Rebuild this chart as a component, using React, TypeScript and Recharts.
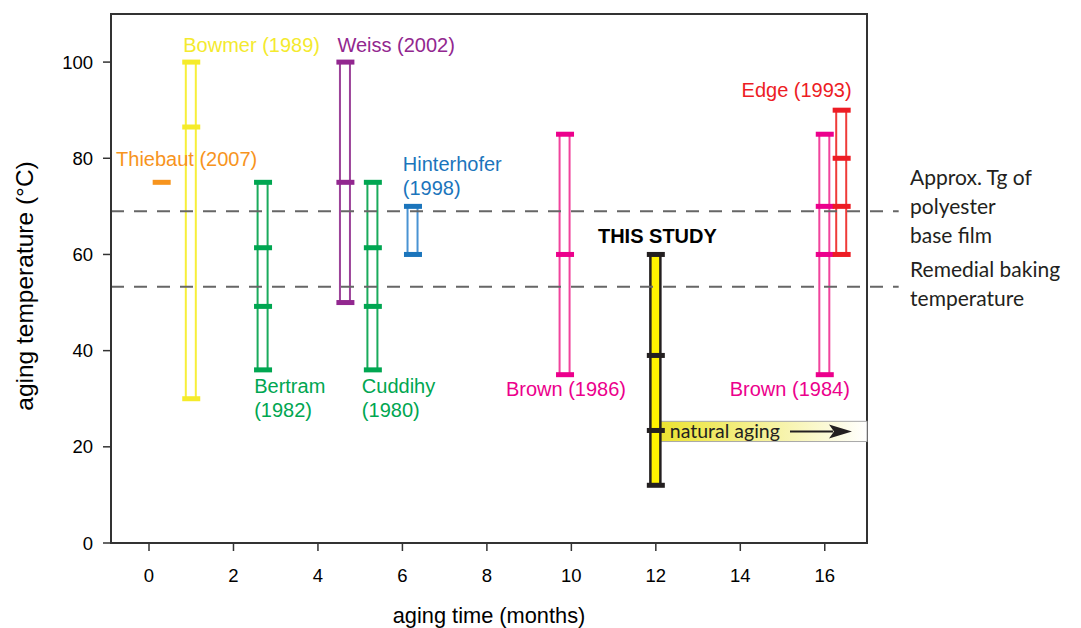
import React from 'react';
import { ComposedChart, Bar, Scatter, XAxis, YAxis, ReferenceLine, ReferenceArea, ReferenceDot } from 'recharts';

// studies, aging time (months) and the tested temperatures (°C)
const studies = [
  'Thiebaut (2007)', 'Bowmer (1989)', 'Bertram (1982)', 'Weiss (2002)', 'Cuddihy (1980)',
  'Hinterhofer (1998)', 'Brown (1986)', 'THIS STUDY', 'Brown (1984)', 'Edge (1993)',
];
const agingMonths = [0.3, 1, 2.7, 4.65, 5.3, 6.25, 9.85, 12, 16, 16.4];
const testTemps = [
  [75],
  [100, 86.5, 30],
  [75, 61.4, 49.2, 36],
  [100, 75, 50],
  [75, 61.4, 49.2, 36],
  [70, 60],
  [85, 60, 35],
  [60, 39, 23.4, 12],
  [85, 70, 60, 35],
  [90, 80, 70, 60],
];
const tgTemp = 69;
const bakingTemp = 53.3;
const naturalAgingBand = [21.1, 25.3];
const xTicks = [0, 2, 4, 6, 8, 10, 12, 14, 16];
const yTicks = [0, 20, 40, 60, 80, 100];

// label anchors in data units (months, °C)
const studyLabels = [
  { study: 'Thiebaut (2007)', lines: ['Thiebaut (2007)'], x: -0.78, y: 78.3 },
  { study: 'Bowmer (1989)', lines: ['Bowmer (1989)'], x: 0.81, y: 102 },
  { study: 'Weiss (2002)', lines: ['Weiss (2002)'], x: 4.46, y: 102 },
  { study: 'Hinterhofer (1998)', lines: ['Hinterhofer', '(1998)'], x: 6.01, y: 77.3 },
  { study: 'Bertram (1982)', lines: ['Bertram', '(1982)'], x: 2.49, y: 31.1 },
  { study: 'Cuddihy (1980)', lines: ['Cuddihy', '(1980)'], x: 5.04, y: 31.1 },
  { study: 'Edge (1993)', lines: ['Edge (1993)'], x: 14.03, y: 92.7 },
  { study: 'THIS STUDY', lines: ['THIS STUDY'], x: 10.63, y: 62.3 },
  { study: 'Brown (1986)', lines: ['Brown (1986)'], x: 8.45, y: 30.5 },
  { study: 'Brown (1984)', lines: ['Brown (1984)'], x: 13.75, y: 30.5 },
];
const sideNotes = [
  { lines: ['Approx. Tg of', 'polyester', 'base film'], x: 18.02, y: 74.4 },
  { lines: ['Remedial baking', 'temperature'], x: 18.02, y: 55.3 },
];

const colors: Record<string, { cap: string; line: string; text: string }> = {
  'Thiebaut (2007)': { cap: '#f7941d', line: '#f7941d', text: '#f7941d' },
  'Bowmer (1989)': { cap: '#f5eb2a', line: '#f7ef3a', text: '#f4ea2e' },
  'Bertram (1982)': { cap: '#00a651', line: '#1aab5c', text: '#00a651' },
  'Weiss (2002)': { cap: '#92278f', line: '#9c4399', text: '#92278f' },
  'Cuddihy (1980)': { cap: '#00a651', line: '#1aab5c', text: '#00a651' },
  'Hinterhofer (1998)': { cap: '#1b75bc', line: '#4a93d3', text: '#1b75bc' },
  'Brown (1986)': { cap: '#ec008c', line: '#f0449c', text: '#ec008c' },
  'THIS STUDY': { cap: '#231f20', line: '#231f20', text: '#000000' },
  'Brown (1984)': { cap: '#ec008c', line: '#f0449c', text: '#ec008c' },
  'Edge (1993)': { cap: '#ed1c24', line: '#ef3b39', text: '#ed1c24' },
};

const ranges = studies
  .map((study, i) => ({ study, x: agingMonths[i], range: [Math.min(...testTemps[i]), Math.max(...testTemps[i])] }))
  .filter(d => d.range[1] > d.range[0]);

const caps = studies.flatMap((study, i) => testTemps[i].map(v => ({ study, x: agingMonths[i], v })));

const sans = 'Liberation Sans, Arial, Helvetica, sans-serif';
const humanist = 'Lato, "Open Sans", sans-serif';
const axisColor = '#333333';

function RangeShape(props: any) {
  const { x, y, width, height, payload } = props;
  if (!(height > 0)) return null;
  const c = colors[payload.study];
  const ours = payload.study === 'THIS STUDY';
  return (
    <rect
      x={x + 1}
      y={y}
      width={width - 2}
      height={height}
      fill={ours ? '#fff200' : 'none'}
      stroke={c.line}
      strokeWidth={ours ? 2.5 : 2}
    />
  );
}

function CapShape(props: any) {
  const { cx, cy, payload } = props;
  return <rect x={cx - 9} y={cy - 2.5} width={18} height={5} fill={colors[payload.study].cap} />;
}

function NaturalAging(props: any) {
  const { x, y, width, height } = props;
  const right = x + width;
  const mid = y + height / 2;
  return (
    <g>
      <rect x={x} y={y} width={width} height={height} fill="url(#agingGrad)" stroke="#a8a8a8" strokeWidth={1} />
      <text x={x + 14} y={mid + 6.5} fontFamily={humanist} fontSize={19.5} fill="#231f20">natural aging</text>
      <line x1={right - 77} y1={mid} x2={right - 34} y2={mid} stroke="#231f20" strokeWidth={2} />
      <polygon points={`${right - 15},${mid} ${right - 38},${mid - 7} ${right - 33},${mid} ${right - 38},${mid + 7}`} fill="#231f20" />
    </g>
  );
}

export default function App() {
  return (
    <ComposedChart
      width={1073}
      height={620}
      data={ranges}
      margin={{ top: 6, right: 214, bottom: 0, left: 43 }}
    >
      <defs>
        <linearGradient id="agingGrad" x1="0" y1="0" x2="1" y2="0">
          <stop offset="0%" stopColor="#ebe22c" />
          <stop offset="100%" stopColor="#ffffff" />
        </linearGradient>
      </defs>
      <XAxis
        type="number"
        dataKey="x"
        domain={[-0.9, 17]}
        ticks={xTicks}
        allowDataOverflow
        height={85}
        tickSize={8}
        tickMargin={18}
        tick={{ fontSize: 18.5, fill: '#000', fontFamily: sans }}
        axisLine={{ stroke: axisColor, strokeWidth: 2 }}
        tickLine={{ stroke: axisColor, strokeWidth: 1.5 }}
        label={{
          content: (p: any) => (
            <text
              x={p.viewBox.x + p.viewBox.width / 2}
              y={614.5}
              textAnchor="middle"
              fontFamily={sans}
              fontSize={21.8}
              fill="#000"
            >
              aging time (months)
            </text>
          ),
        }}
      />
      <YAxis
        type="number"
        domain={[0, 110]}
        ticks={yTicks}
        allowDataOverflow
        width={60}
        tickSize={8}
        tickMargin={10}
        tick={{ fontSize: 18.5, fill: '#000', fontFamily: sans }}
        axisLine={{ stroke: axisColor, strokeWidth: 2 }}
        tickLine={{ stroke: axisColor, strokeWidth: 1.5 }}
        label={{
          content: (p: any) => {
            const cy = p.viewBox.y + p.viewBox.height / 2 + 7.5;
            return (
              <text
                x={24.5}
                y={cy}
                transform={`rotate(-90 24.5 ${cy})`}
                textAnchor="middle"
                fontFamily={sans}
                fontSize={24.5}
                fill="#000"
              >
                aging temperature (°C)
              </text>
            );
          },
        }}
      />
      <ReferenceArea x1={-0.9} x2={17} y1={0} y2={110} fill="none" stroke={axisColor} strokeWidth={2} fillOpacity={0} />
      <ReferenceArea
        x1={12}
        x2={17}
        y1={naturalAgingBand[0]}
        y2={naturalAgingBand[1]}
        ifOverflow="visible"
        shape={<NaturalAging />}
      />
      <ReferenceLine
        segment={[{ x: -0.9, y: tgTemp }, { x: 17.75, y: tgTemp }]}
        ifOverflow="visible"
        stroke="#666"
        strokeWidth={2}
        strokeDasharray="13 10"
      />
      <ReferenceLine
        segment={[{ x: -0.9, y: bakingTemp }, { x: 17.75, y: bakingTemp }]}
        ifOverflow="visible"
        stroke="#666"
        strokeWidth={2}
        strokeDasharray="13 10"
      />
      <Bar dataKey="range" barSize={12} shape={<RangeShape />} isAnimationActive={false} />
      <Scatter data={caps} dataKey="v" shape={<CapShape />} isAnimationActive={false} />
      {studyLabels.map(l => (
        <ReferenceDot
          key={l.study}
          x={l.x}
          y={l.y}
          r={0}
          ifOverflow="visible"
          shape={(p: any) => (
            <text
              x={p.cx}
              y={p.cy}
              fontFamily={sans}
              fontSize={20}
              fontWeight={l.study === 'THIS STUDY' ? 'bold' : 'normal'}
              fill={colors[l.study].text}
            >
              {l.lines.map((t, i) => (
                <tspan key={i} x={p.cx} dy={i === 0 ? 0 : 24}>{t}</tspan>
              ))}
            </text>
          )}
        />
      ))}
      {sideNotes.map((n, k) => (
        <ReferenceDot
          key={k}
          x={n.x}
          y={n.y}
          r={0}
          ifOverflow="visible"
          shape={(p: any) => (
            <text x={p.cx} y={p.cy} fontFamily={humanist} fontSize={21} fill="#231f20">
              {n.lines.map((t, i) => (
                <tspan key={i} x={p.cx} dy={i === 0 ? 0 : 29}>{t}</tspan>
              ))}
            </text>
          )}
        />
      ))}
    </ComposedChart>
  );
}
